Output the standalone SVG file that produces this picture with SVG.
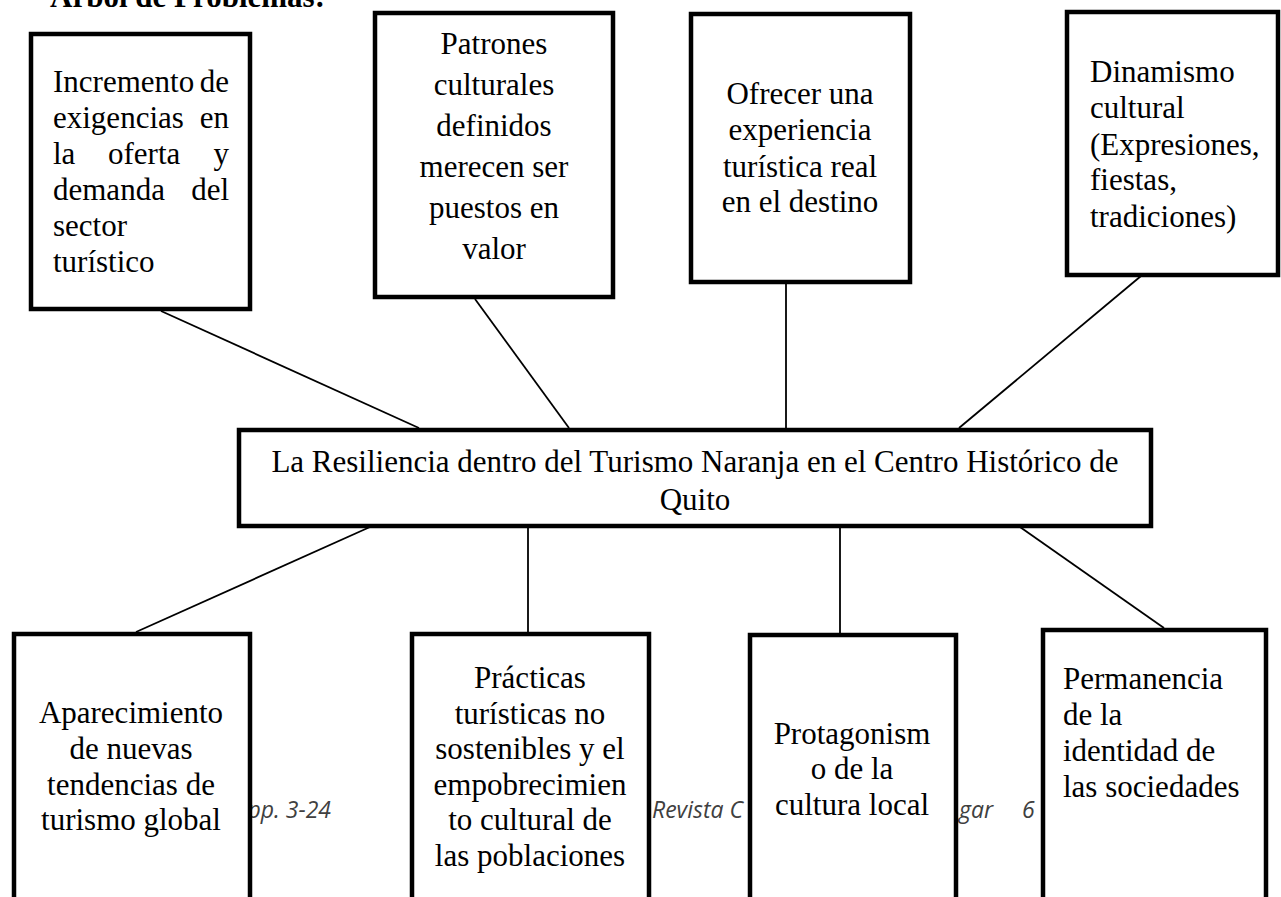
<svg xmlns="http://www.w3.org/2000/svg" width="1281" height="897" viewBox="0 0 1281 897">
<style>
.t{font-family:"Liberation Serif","Times New Roman",serif;font-size:31px;fill:#000}
.c{text-anchor:middle}
.e{text-anchor:end}
.box{fill:#fff;stroke:#000;stroke-width:4.5}
.ln{stroke:#000;stroke-width:1.8;fill:none}
.ft{font-family:"Open Sans",sans-serif;font-style:italic;font-size:23px;fill:#404040}
.ttl{font-family:"Liberation Serif","Times New Roman",serif;font-size:31px;font-weight:bold}
</style>
<rect width="1281" height="897" fill="#fff"/>
<text class="ttl" x="50" y="7">Árbol de Problemas:</text>
<g id="footer">
<text class="ft" x="331" y="818" text-anchor="end">pp. 3-24</text>
<text class="ft" x="652" y="818">Revista C</text>
<text class="ft" x="959" y="818">gar</text>
<text class="ft" x="1022" y="818">6</text>
</g>
<g id="connectors">
<line class="ln" x1="161" y1="311" x2="419" y2="428"/>
<line class="ln" x1="475" y1="299" x2="569" y2="428"/>
<line class="ln" x1="786" y1="284" x2="786" y2="428"/>
<line class="ln" x1="1141" y1="276" x2="959" y2="428"/>
<line class="ln" x1="370" y1="527" x2="136" y2="632"/>
<line class="ln" x1="528" y1="527" x2="528" y2="632"/>
<line class="ln" x1="840" y1="527" x2="840" y2="633"/>
<line class="ln" x1="1020" y1="527" x2="1164" y2="628"/>
</g>
<g id="n1">
<rect class="box" x="31" y="34" width="219" height="275"/>
<text class="t" x="53" y="92">Incremento</text><text class="t e" x="229" y="92">de</text>
<text class="t" x="53" y="128">exigencias</text><text class="t e" x="229" y="128">en</text>
<text class="t" x="53" y="164">la</text><text class="t" x="108" y="164">oferta</text><text class="t e" x="229" y="164">y</text>
<text class="t" x="53" y="200">demanda</text><text class="t e" x="229" y="200">del</text>
<text class="t" x="53" y="236">sector</text>
<text class="t" x="53" y="272">turístico</text>
</g>
<g id="n2">
<rect class="box" x="375" y="13" width="238" height="284"/>
<text class="t c" x="494"><tspan x="494" y="54">Patrones</tspan><tspan x="494" y="95">culturales</tspan><tspan x="494" y="136">definidos</tspan><tspan x="494" y="177">merecen ser</tspan><tspan x="494" y="218">puestos en</tspan><tspan x="494" y="259">valor</tspan></text>
</g>
<g id="n3">
<rect class="box" x="691" y="14" width="219" height="268"/>
<text class="t c"><tspan x="800" y="104">Ofrecer una</tspan><tspan x="800" y="140">experiencia</tspan><tspan x="800" y="177">turística real</tspan><tspan x="800" y="212">en el destino</tspan></text>
</g>
<g id="n4">
<rect class="box" x="1067" y="12" width="211" height="263"/>
<text class="t"><tspan x="1090" y="82">Dinamismo</tspan><tspan x="1090" y="118">cultural</tspan><tspan x="1090" y="155">(Expresiones,</tspan><tspan x="1090" y="190">fiestas,</tspan><tspan x="1090" y="227">tradiciones)</tspan></text>
</g>
<g id="center">
<rect class="box" x="239" y="430" width="912" height="96"/>
<text class="t c"><tspan x="695" y="472">La Resiliencia dentro del Turismo Naranja en el Centro Histórico de</tspan><tspan x="695" y="510">Quito</tspan></text>
</g>
<g id="b1">
<rect class="box" x="14" y="634" width="236" height="290"/>
<text class="t c"><tspan x="131" y="723">Aparecimiento</tspan><tspan x="131" y="759">de nuevas</tspan><tspan x="131" y="795">tendencias de</tspan><tspan x="131" y="830">turismo global</tspan></text>
</g>
<g id="b2">
<rect class="box" x="412" y="634" width="237" height="290"/>
<text class="t c"><tspan x="530" y="688">Prácticas</tspan><tspan x="530" y="723.5">turísticas no</tspan><tspan x="530" y="759">sostenibles y el</tspan><tspan x="530" y="794.5">empobrecimien</tspan><tspan x="530" y="830">to cultural de</tspan><tspan x="530" y="865.5">las poblaciones</tspan></text>
</g>
<g id="b3">
<rect class="box" x="750" y="635" width="206" height="290"/>
<text class="t c"><tspan x="852" y="744">Protagonism</tspan><tspan x="852" y="779">o de la</tspan><tspan x="852" y="815">cultura local</tspan></text>
</g>
<g id="b4">
<rect class="box" x="1043" y="630" width="223" height="295"/>
<text class="t"><tspan x="1063" y="689">Permanencia</tspan><tspan x="1063" y="725">de la</tspan><tspan x="1063" y="761">identidad de</tspan><tspan x="1063" y="797">las sociedades</tspan></text>
</g>
</svg>
